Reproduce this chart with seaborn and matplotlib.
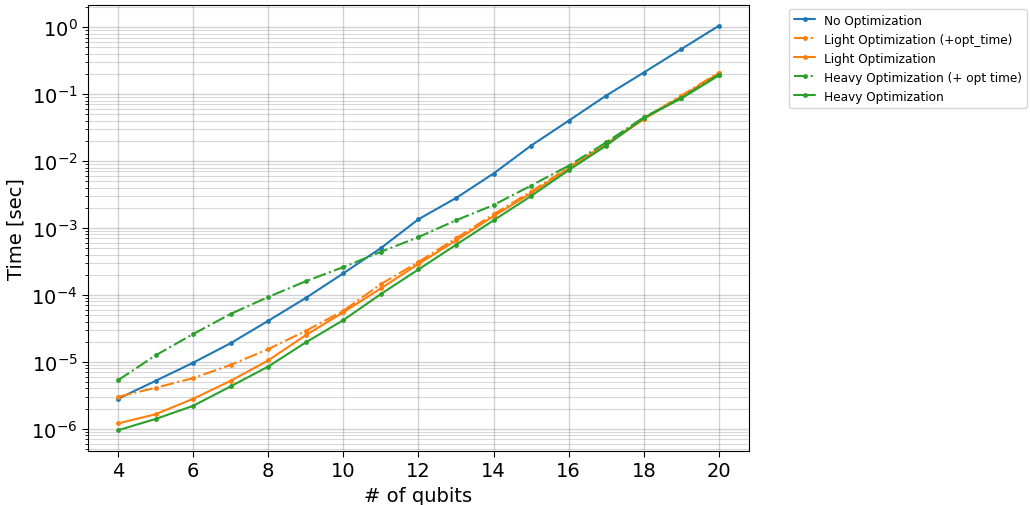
import matplotlib
matplotlib.use("Agg")
import matplotlib.pyplot as plt
import matplotlib.ticker as mticker
import seaborn as sns
import pandas as pd

qubits = list(range(4, 21))
no_opt = [2.8e-6, 5.2e-6, 9.7e-6, 1.9e-5, 4.1e-5, 9.0e-5, 2.1e-4, 5.0e-4, 1.35e-3,
          2.8e-3, 6.5e-3, 1.7e-2, 4.0e-2, 9.5e-2, 0.21, 0.47, 1.05]
light_opt_time = [3.0e-6, 4.1e-6, 5.7e-6, 9.0e-6, 1.55e-5, 2.9e-5, 5.8e-5, 1.45e-4, 3.1e-4,
                  7.0e-4, 1.6e-3, 3.5e-3, 8.0e-3, 1.8e-2, 4.3e-2, 9.5e-2, 0.21]
light_opt = [1.2e-6, 1.65e-6, 2.8e-6, 5.2e-6, 1.05e-5, 2.5e-5, 5.5e-5, 1.25e-4, 2.9e-4,
             6.5e-4, 1.5e-3, 3.3e-3, 7.8e-3, 1.75e-2, 4.2e-2, 9.2e-2, 0.205]
heavy_opt_time = [5.3e-6, 1.25e-5, 2.6e-5, 5.2e-5, 9.3e-5, 1.6e-4, 2.6e-4, 4.4e-4, 7.3e-4,
                  1.3e-3, 2.2e-3, 4.3e-3, 8.5e-3, 1.9e-2, 4.5e-2, 8.8e-2, 0.195]
heavy_opt = [9.5e-7, 1.4e-6, 2.2e-6, 4.3e-6, 8.5e-6, 1.95e-5, 4.2e-5, 1.03e-4, 2.4e-4,
             5.6e-4, 1.3e-3, 3.0e-3, 7.3e-3, 1.7e-2, 4.4e-2, 8.6e-2, 0.19]
y_ticks = [1e-6, 1e-5, 1e-4, 1e-3, 1e-2, 1e-1, 1e0]
x_ticks = [4, 6, 8, 10, 12, 14, 16, 18, 20]

labels = ["No Optimization", "Light Optimization (+opt_time)", "Light Optimization",
          "Heavy Optimization (+ opt time)", "Heavy Optimization"]
series = [no_opt, light_opt_time, light_opt, heavy_opt_time, heavy_opt]
colors = ["#1f77b4", "#ff7f0e", "#ff7f0e", "#2ca02c", "#2ca02c"]
styles = ["-", "-.", "-", "-.", "-"]

sns.set_style("white")
plt.rcParams['font.family'] = ['DejaVu Sans']
plt.rcParams['text.color'] = 'black'
plt.rcParams['axes.labelcolor'] = 'black'
plt.rcParams['xtick.color'] = 'black'
plt.rcParams['ytick.color'] = 'black'

fig = plt.figure(figsize=(10.3, 5.06), dpi=100)
ax = fig.add_axes([0.0854, 0.107, 0.6417, 0.881])

for lab, vals, c, ls in zip(labels, series, colors, styles):
    df = pd.DataFrame({"q": qubits, "t": vals})
    sns.lineplot(data=df, x="q", y="t", ax=ax, color=c, linestyle=ls, marker="o",
                 markersize=3.5, markeredgewidth=0, linewidth=1.5, label=lab)

ax.set_yscale("log")
ax.set_xticks(x_ticks)
ax.set_xlim(3.2, 20.8)
ax.set_ylim(10**-6.33, 10**0.33)
ax.yaxis.set_major_locator(mticker.FixedLocator(y_ticks))
ax.yaxis.set_major_formatter(mticker.LogFormatterSciNotation())
ax.yaxis.set_minor_formatter(mticker.NullFormatter())
ax.grid(which="major", color="gray", alpha=0.35, linewidth=1.0)
ax.grid(which="minor", color="gray", alpha=0.3, linewidth=0.8)
ax.tick_params(axis="both", which="major", labelsize=14, direction="out", length=4,
               bottom=True, left=True)
ax.tick_params(axis="y", which="minor", length=2, left=True)
for s in ax.spines.values():
    s.set_color("black")
    s.set_linewidth(0.8)
ax.set_xlabel("# of qubits", fontsize=14)
ax.set_ylabel("Time [sec]", fontsize=14)
ax.legend(bbox_to_anchor=(1.055, 1.0), loc="upper left", fontsize=8.7, frameon=True,
          borderaxespad=0.3, handlelength=1.8, handletextpad=0.7, borderpad=0.4)

fig.savefig("out.png", dpi=100)
